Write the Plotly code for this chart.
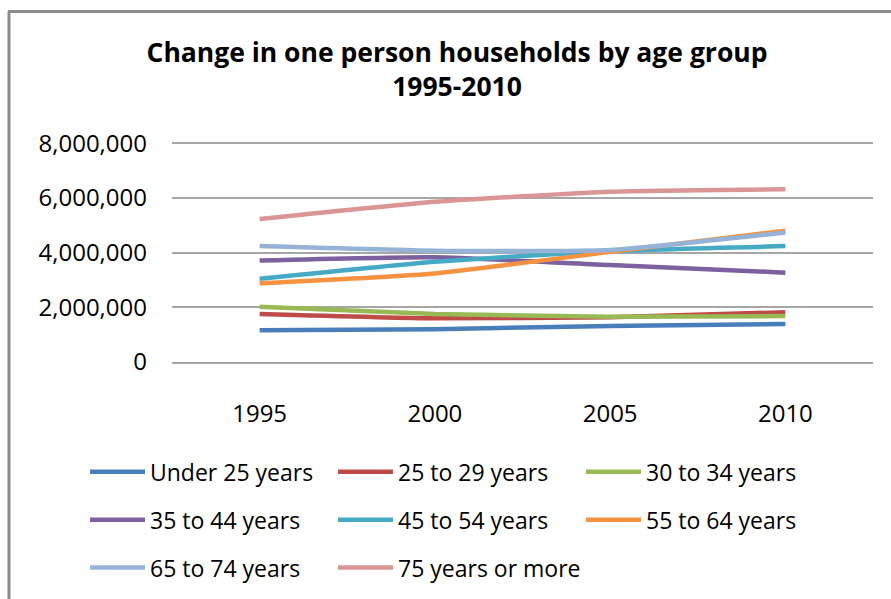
import plotly.graph_objects as go

years = ["1995", "2000", "2005", "2010"]
series_names = ["Under 25 years", "25 to 29 years", "30 to 34 years",
                "35 to 44 years", "45 to 54 years", "55 to 64 years",
                "65 to 74 years", "75 years or more"]
under25 = [1160000, 1200000, 1320000, 1390000]
age25_29 = [1760000, 1600000, 1640000, 1820000]
age30_34 = [2020000, 1760000, 1660000, 1680000]
age35_44 = [3710000, 3830000, 3550000, 3270000]
age45_54 = [3050000, 3670000, 4060000, 4240000]
age55_64 = [2880000, 3240000, 4030000, 4800000]
age65_74 = [4240000, 4070000, 4100000, 4740000]
age75plus = [5230000, 5860000, 6230000, 6320000]
series_values = [under25, age25_29, age30_34, age35_44,
                 age45_54, age55_64, age65_74, age75plus]
colors = ["#4A7EBB", "#BE4B48", "#98B954", "#7D60A0",
          "#46AAC5", "#F69240", "#95B3D7", "#D99694"]
y_ticks = [0, 2000000, 4000000, 6000000, 8000000]

W, H = 891, 599
L, R, B = 172, 873, 362
YMAX = 8050000
T = B - 219 * YMAX / 8000000

FONT = "Open Sans"
fig = go.Figure()
legend_ids = ["legend", "legend", "legend", "legend2", "legend2", "legend2",
              "legend3", "legend3"]
for name, vals, col, lg in zip(series_names, series_values, colors, legend_ids):
    fig.add_trace(go.Scatter(
        x=years, y=vals, name=name, mode="lines",
        line=dict(color=col, width=4.5, shape="spline", smoothing=0.5),
        legend=lg,
    ))

def leg(ypx):
    return dict(
        orientation="h", xref="paper", yref="paper",
        x=(85 - L) / (R - L), y=(B - ypx) / (B - T),
        xanchor="left", yanchor="middle",
        entrywidth=178, entrywidthmode="pixels", itemwidth=55,
        font=dict(family=FONT, size=23, color="#000000"),
        bgcolor="rgba(0,0,0,0)", borderwidth=0, tracegroupgap=0,
        traceorder="normal",
    )

fig.update_layout(
    width=W, height=H,
    margin=dict(l=L, r=W - R, t=T, b=H - B, pad=0, autoexpand=False),
    paper_bgcolor="white", plot_bgcolor="white",
    font=dict(family=FONT, size=22, color="#000000"),
    title=dict(
        text="Change in one person households by age group<br>1995-2010",
        x=457 / W, y=1 - 62 / H, xref="container", yref="container",
        xanchor="center", yanchor="middle",
        font=dict(family=FONT, size=26.5, color="#000000", weight="bold"),
    ),
    showlegend=True,
    legend=leg(472), legend2=leg(520), legend3=leg(568),
    xaxis=dict(
        type="category", range=[-0.5, 3.5], showgrid=False,
        showline=True, linecolor="#A6A6A6", linewidth=2,
        ticks="", ticklabelstandoff=29, automargin=False,
        tickfont=dict(family=FONT, size=24, color="#000000"),
        zeroline=False, fixedrange=True,
    ),
    yaxis=dict(
        range=[0, YMAX], tickvals=y_ticks, tickformat=",d",
        showgrid=True, gridcolor="#A6A6A6", gridwidth=2,
        zeroline=False, showline=False, ticks="",
        ticklabelstandoff=24, automargin=False,
        tickfont=dict(family=FONT, size=24, color="#000000"),
        fixedrange=True,
    ),
    shapes=[
        dict(type="line", xref="paper", yref="paper",
             x0=(9 - L) / (R - L), x1=(9 - L) / (R - L),
             y0=(B - 11) / (B - T), y1=(B - 620) / (B - T),
             line=dict(color="#8C8C8C", width=3)),
        dict(type="line", xref="paper", yref="paper",
             x0=(8 - L) / (R - L), x1=(900 - L) / (R - L),
             y0=(B - 11) / (B - T), y1=(B - 11) / (B - T),
             line=dict(color="#8C8C8C", width=3)),
    ],
)

fig.write_html("out.html")
